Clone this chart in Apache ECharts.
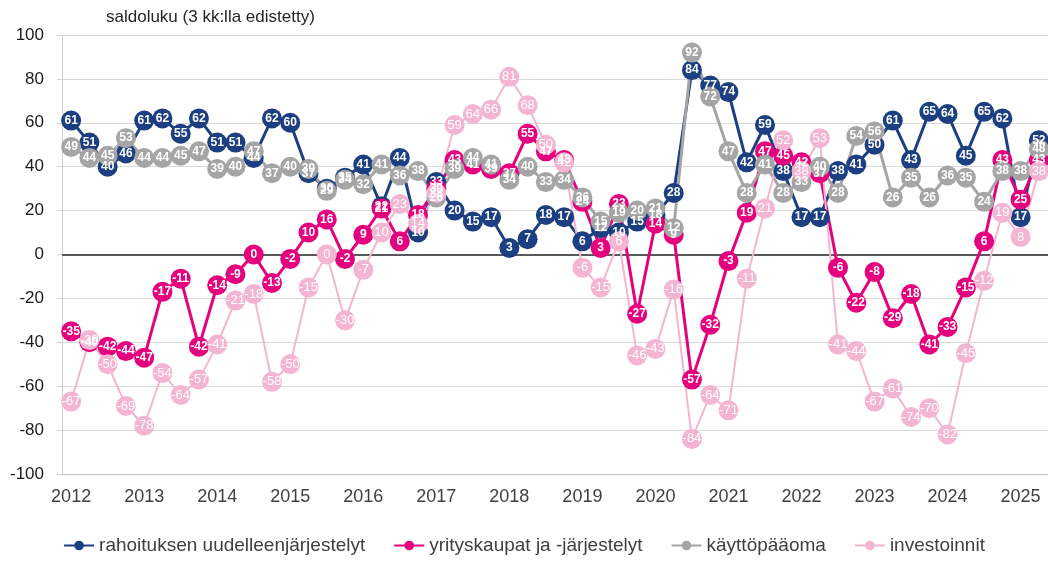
<!DOCTYPE html>
<html><head><meta charset="utf-8">
<script src="https://cdn.jsdelivr.net/npm/echarts@6/dist/echarts.min.js"></script>
<style>html,body{margin:0;padding:0;background:#fff}#c{width:1048px;height:568px}</style>
</head><body><div id="c"></div>
<script>
const years = [2012,2013,2014,2015,2016,2017,2018,2019,2020,2021,2022,2023,2024,2025];
const quarterNames = ['Q1','Q2','Q3','Q4'];
const quarters = [];
years.forEach(y => quarterNames.forEach(q => quarters.push(y + q)));
quarters.length = 54; // 2012Q1 .. 2025Q2

const rahoitus = [61,51,40,46,61,62,55,62,51,51,44,62,60,37,30,35,41,22,44,10,33,20,15,17,3,7,18,17,6,12,10,15,18,28,84,77,74,42,59,38,17,17,38,41,50,61,43,65,64,45,65,62,17,52];
const yrityskaupat = [-35,-40,-42,-44,-47,-17,-11,-42,-14,-9,0,-13,-2,10,16,-2,9,21,6,18,30,43,41,39,37,55,47,43,24,3,23,-27,14,9,-57,-32,-3,19,47,45,42,37,-6,-22,-8,-29,-18,-41,-33,-15,6,43,25,43];
const kayttopaaoma = [49,44,45,53,44,44,45,47,39,40,47,37,40,39,29,34,32,41,36,38,26,39,44,41,34,40,33,34,26,15,19,20,21,12,92,72,47,28,41,28,33,40,28,54,56,26,35,26,36,35,24,38,38,48];
const investoinnit = [-67,-39,-50,-69,-78,-54,-64,-57,-41,-21,-18,-58,-50,-15,0,-30,-7,10,23,14,28,59,64,66,81,68,50,42,-6,-15,6,-46,-43,-16,-84,-64,-71,-11,21,52,38,53,-41,-44,-67,-61,-74,-70,-82,-45,-12,19,8,38];

const seriesNames = ['rahoituksen uudelleenjärjestelyt','yrityskaupat ja -järjestelyt','käyttöpääoma','investoinnit'];
const yTicks = {min:-100, max:100, interval:20};
const FONT = 'Liberation Sans, Arial, sans-serif';

function mk(name, data, color, lw, bold, fs) {
  return {
    name, type:'line', data, symbol:'circle', symbolSize:20, showAllSymbol:true,
    lineStyle:{color, width:lw}, itemStyle:{color},
    label:{show:true, position:'inside', color:'#fff', fontSize:fs, fontWeight:bold?'bold':'normal', fontFamily:FONT},
    labelLayout:{hideOverlap:false},
    emphasis:{disabled:true}, animation:false
  };
}

const series = [
  mk(seriesNames[0], rahoitus, '#1B3F80', 3, true, 12),
  mk(seriesNames[1], yrityskaupat, '#E5007E', 3, true, 12),
  mk(seriesNames[2], kayttopaaoma, '#A5A5A5', 3, true, 12),
  mk(seriesNames[3], investoinnit, '#F4B5D2', 2, false, 13)
];
series[0].markLine = {silent:true, symbol:'none', z:1, animation:false, label:{show:false},
  lineStyle:{color:'#595959', width:2, type:'solid'}, data:[{yAxis:0}]};

const chart = echarts.init(document.getElementById('c'), null, {renderer:'canvas'});
chart.setOption({
  animation:false,
  backgroundColor:'#fff',
  title:{text:'saldoluku (3 kk:lla edistetty)', left:101, top:4,
    textStyle:{fontSize:17, fontWeight:'normal', color:'#262626', fontFamily:FONT}},
  grid:{left:62, top:35, height:439, width:988, containLabel:false},
  legend:{bottom:8, left:'center', itemWidth:30, itemHeight:12, itemGap:28,
    textStyle:{fontSize:19, color:'#404040', fontFamily:FONT}, data:seriesNames},
  xAxis:{type:'category', data:quarters, boundaryGap:true,
    axisLine:{show:true, onZero:false, lineStyle:{color:'#BFBFBF'}},
    axisTick:{show:false},
    axisLabel:{interval:3, formatter:v => v.slice(0,4), fontSize:18, color:'#404040', margin:14, fontFamily:FONT}},
  yAxis:{type:'value', min:yTicks.min, max:yTicks.max, interval:yTicks.interval,
    axisLine:{show:true, lineStyle:{color:'#D0D0D0'}},
    axisTick:{show:true, length:5, lineStyle:{color:'#D0D0D0'}},
    splitLine:{lineStyle:{color:'#D9D9D9', width:1}},
    axisLabel:{fontSize:17, color:'#1a1a1a', margin:18, fontFamily:FONT}},
  series
});
</script></body></html>
